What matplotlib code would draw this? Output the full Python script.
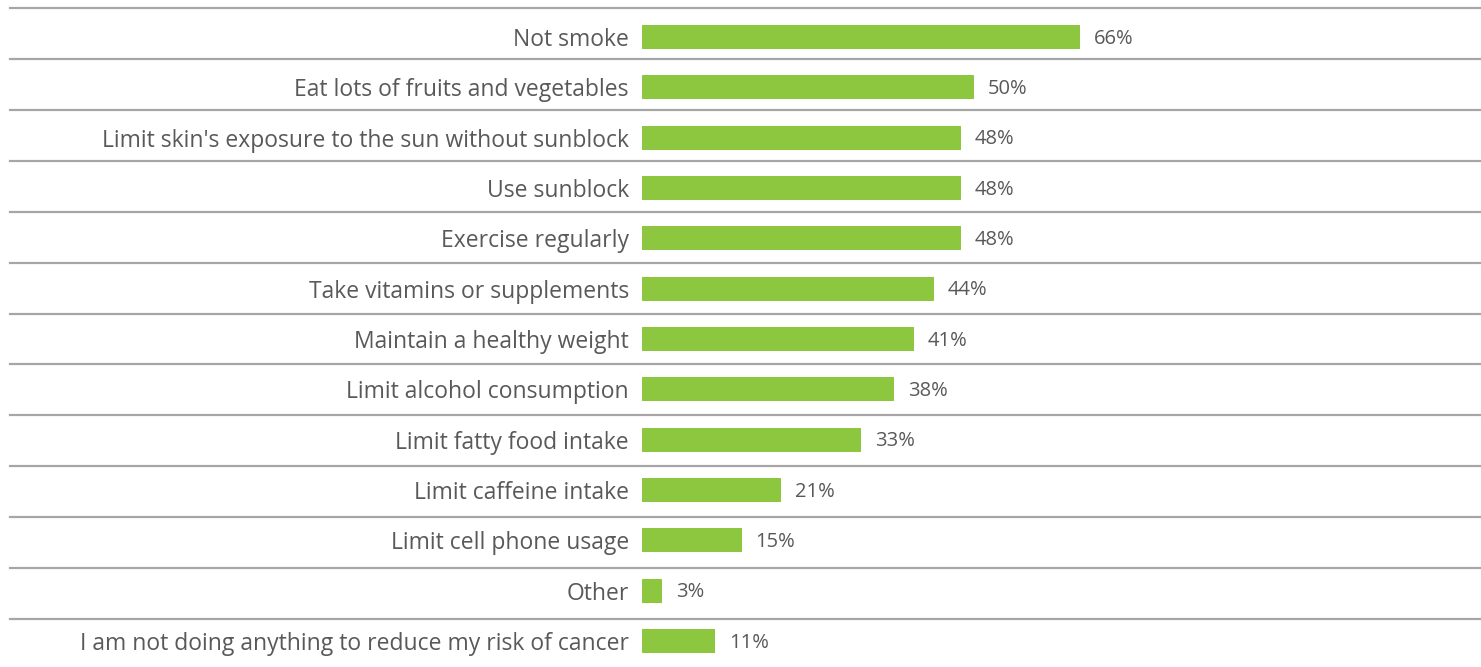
import numpy as np
import matplotlib
matplotlib.use('Agg')
from matplotlib import pyplot as plt

categories = [
    'Not smoke',
    'Eat lots of fruits and vegetables',
    "Limit skin's exposure to the sun without sunblock",
    'Use sunblock',
    'Exercise regularly',
    'Take vitamins or supplements',
    'Maintain a healthy weight',
    'Limit alcohol consumption',
    'Limit fatty food intake',
    'Limit caffeine intake',
    'Limit cell phone usage',
    'Other',
    'I am not doing anything to reduce my risk of cancer',
]
values = [66, 50, 48, 48, 48, 44, 41, 38, 33, 21, 15, 3, 11]

GREEN = '#8DC63F'
GRID = '#A6A6A6'
TEXT = '#595959'

plt.rcParams['font.family'] = ['Open Sans', 'DejaVu Sans']

W, H = 1481, 667
fig = plt.figure(figsize=(W / 100, H / 100), dpi=100)
# bars start at px 642, 66% ends at px 1080
x0 = 642
ax = fig.add_axes([x0 / W, 0, 1 - x0 / W, 1])

y = np.arange(len(categories))
ax.barh(y, values, height=0.48, color=GREEN)

px_per_unit = (1080 - 642) / 66
ax.set_xlim(0, (W - x0) / px_per_unit)
pitch = (641 - 37) / 12
ax.set_ylim(12 + (H - 641) / pitch, -37 / pitch)

for yi, v in zip(y, values):
    ax.text(v + 14 / px_per_unit, yi + 0.03, f'{v}%', va='center', ha='left',
            fontsize=14.5, color=TEXT)

ax.set_yticks(y)
ax.set_yticklabels(categories, fontsize=16.5, color=TEXT)
ax.tick_params(axis='y', length=0, pad=9.4)
ax.set_xticks([])
for s in ax.spines.values():
    s.set_visible(False)

# separator lines across the full width
seps = np.linspace((8 - 37) / pitch, (619 - 37) / pitch, 13)
for s in seps:
    ax.axhline(s, xmin=(10 - x0) / (W - x0), xmax=1, color=GRID, lw=1.6,
               clip_on=False, zorder=0)

fig.savefig('out.png', dpi=100)
